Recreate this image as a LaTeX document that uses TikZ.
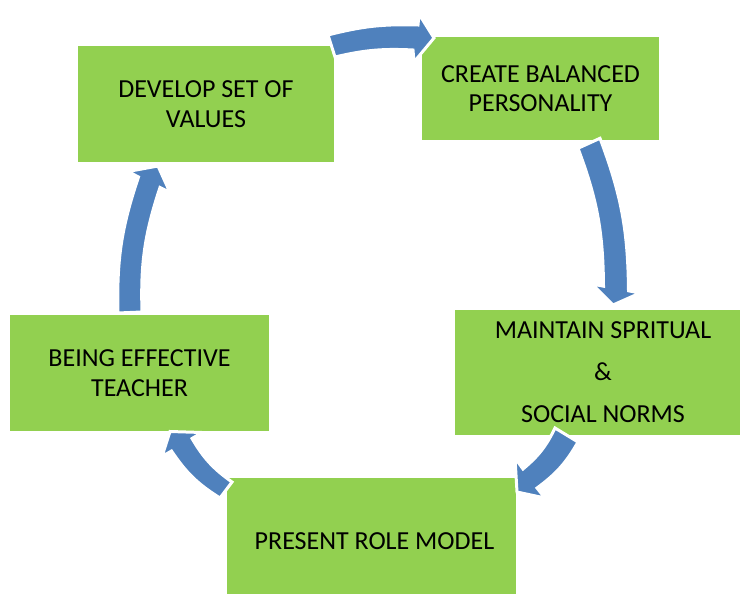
\documentclass[tikz,border=0pt]{standalone}
\usepackage{fontspec}
\setmainfont{Carlito}
\definecolor{boxgreen}{HTML}{92D050}
\definecolor{arrowblue}{HTML}{4F81BD}
\begin{document}
\begin{tikzpicture}[x=1pt,y=1pt,
  box/.style={fill=boxgreen, inner sep=0pt, align=center, text=black,
              font=\fontsize{26}{29.5}\selectfont},
  cyclearrow/.style={fill=arrowblue, draw=white, line width=3pt, line join=miter}]
\useasboundingbox (0,0) rectangle (741,595);

% boxes
\node[box, minimum width=256pt, minimum height=116pt] (b1) at (206,491) {DEVELOP SET OF\\VALUES};
\node[box, minimum width=237pt, minimum height=103pt] (b2) at (540.5,506.5) {CREATE BALANCED\\PERSONALITY};
\node[box, minimum width=285pt, minimum height=125pt] (b3) at (597.5,222.5)
  {\hspace*{11pt}MAINTAIN SPRITUAL\\[12.5pt]\hspace*{11pt}\&\\[12.5pt]\hspace*{11pt}SOCIAL NORMS};
\node[box, minimum width=289pt, minimum height=116pt] (b4) at (371.5,59)
  {\raisebox{-5pt}[\height][\depth]{\hspace*{6pt}PRESENT ROLE MODEL}};
\node[box, minimum width=259pt, minimum height=116pt] (b5) at (139.5,222) {BEING EFFECTIVE\\TEACHER};

% arrow 1: b1 -> b2
\coordinate (a1to) at (328,560);   \coordinate (a1ti) at (335,538);
\coordinate (a1bo) at (418,570);   \coordinate (a1bi) at (413,545);
\coordinate (a1wo) at (419,581);   \coordinate (a1wi) at (414,533);
\coordinate (a1p)  at (434,557);
% arrow 2: b2 -> b3
\coordinate (a2to) at (600,456.7); \coordinate (a2ti) at (578,446.7);
\coordinate (a2bo) at (628.5,304.2); \coordinate (a2bi) at (603.5,308.8);
\coordinate (a2wo) at (640,302);   \coordinate (a2wi) at (592,311);
\coordinate (a2p)  at (613,290);
% arrow 3: b3 -> b4
\coordinate (a3to) at (578,153);   \coordinate (a3ti) at (555,167);
\coordinate (a3bo) at (537,107);   \coordinate (a3bi) at (523,126);
\coordinate (a3wo) at (545,97);    \coordinate (a3wi) at (515,137);
\coordinate (a3p)  at (517,103);
% arrow 4: b4 -> b5
\coordinate (a4to) at (220,97);    \coordinate (a4ti) at (232,113);
\coordinate (a4bo) at (171.5,144); \coordinate (a4bi) at (192,156.5);
\coordinate (a4wo) at (162,138.5); \coordinate (a4wi) at (202,162.5);
\coordinate (a4p)  at (170,163.5);
% arrow 5: b5 -> b1
\coordinate (a5to) at (118,282);   \coordinate (a5ti) at (142,283);
\coordinate (a5bo) at (138.5,418); \coordinate (a5bi) at (160,407.5);
\coordinate (a5wo) at (128,423.5); \coordinate (a5wi) at (170,402.5);
\coordinate (a5p)  at (158,429);

\foreach \a/\b in {a1/8,a2/10,a3/12,a4/12,a5/10}{
  \draw[cyclearrow] (\a to) to[bend left=\b] (\a bo) -- (\a wo) -- (\a p) -- (\a wi)
     -- (\a bi) to[bend right=\b] (\a ti) -- cycle;
}
\end{tikzpicture}
\end{document}
